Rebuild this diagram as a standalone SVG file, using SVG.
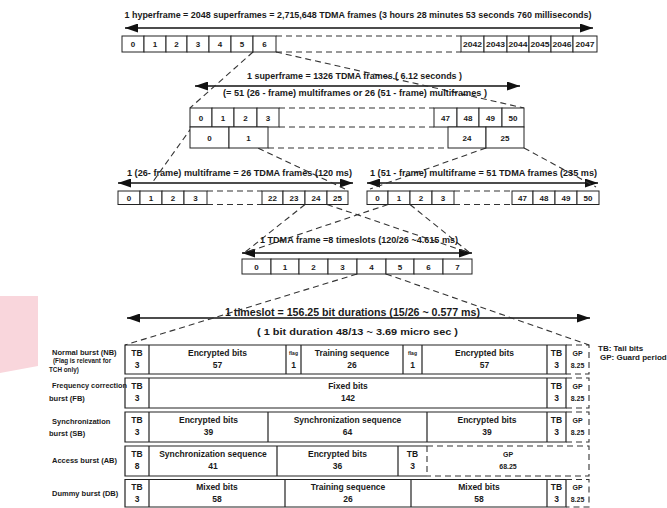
<svg xmlns="http://www.w3.org/2000/svg" width="667" height="508" viewBox="0 0 667 508">
<style>
text{font-family:"Liberation Sans",Arial,sans-serif;font-weight:bold;fill:#1a1a1a}
.c{fill:#fff;stroke:#222;stroke-width:1}
.r{fill:none;stroke:#222;stroke-width:1.2}
.d{fill:none;stroke:#333;stroke-width:1.1;stroke-dasharray:6 4}
.a{stroke:#111;stroke-width:1.3;fill:none;marker-start:url(#ah);marker-end:url(#ah)}
.n{font-size:8px;text-anchor:middle}
.h{font-size:8.5px;text-anchor:middle}
.l{font-size:7.5px}
.s{font-size:6.3px}
.m{font-size:8.5px;text-anchor:middle}
.f{font-size:5px;text-anchor:middle}
.g{font-size:7px;text-anchor:middle}
.k{font-size:8px}
</style>
<defs>
<marker id="ah" markerUnits="userSpaceOnUse" markerWidth="13" markerHeight="9" refX="13" refY="4.5" orient="auto-start-reverse"><path d="M0,0 L13,4.5 L0,9 z" fill="#111"/></marker>
</defs>
<rect width="667" height="508" fill="#fff"/>
<polygon points="0,296 38,296 38,366 0,373" fill="#f9d6dc"/>

<g id="connectors">
<line class="a" x1="125" y1="28" x2="593" y2="28"/>
<line class="a" x1="195" y1="86" x2="520" y2="86"/>
<line class="a" x1="118" y1="183" x2="353" y2="183"/>
<line class="a" x1="367" y1="183" x2="598" y2="183"/>
<line class="a" x1="242" y1="253" x2="472" y2="253"/>
<line class="a" x1="127" y1="318" x2="590" y2="318"/>
<path class="d" d="M276,36 H461 M276,52 H461"/>
<path class="d" d="M253,52 L190,108 M276,52 L524,108"/>
<path class="d" d="M279,108 H434 M279,127 H434 M268,148 H448"/>
<path class="d" d="M192,127 L152,183 M213,127 L345,189 M486,148 L370,189 M524,148 L596,187"/>
<path class="d" d="M207,191 H262 M207,204.5 H262 M454,191 H512 M454,204.5 H512"/>
<path class="d" d="M305,204.5 L244,253 M327,204.5 L470,253 M388,204.5 L244,253 M410,204.5 L470,253"/>
<path class="d" d="M357,274 L125,345 M386,274 L589,345"/>
</g>

<g id="hyperframe">
<text class="h" x="358" y="17.5" textLength="467" lengthAdjust="spacingAndGlyphs">1 hyperframe = 2048 superframes = 2,715,648 TDMA frames (3 hours 28 minutes 53 seconds 760 milliseconds)</text>
<rect class="c" x="122" y="36" width="22" height="16"/><rect class="c" x="144" y="36" width="22" height="16"/><rect class="c" x="166" y="36" width="21" height="16"/><rect class="c" x="187" y="36" width="22" height="16"/><rect class="c" x="209" y="36" width="22" height="16"/><rect class="c" x="231" y="36" width="22" height="16"/><rect class="c" x="253" y="36" width="23" height="16"/>
<text class="n" x="133" y="47">0</text><text class="n" x="155" y="47">1</text><text class="n" x="176.5" y="47">2</text><text class="n" x="198" y="47">3</text><text class="n" x="220" y="47">4</text><text class="n" x="242" y="47">5</text><text class="n" x="264.5" y="47">6</text>
<rect class="c" x="461" y="36" width="23" height="16"/><rect class="c" x="484" y="36" width="23" height="16"/><rect class="c" x="507" y="36" width="22" height="16"/><rect class="c" x="529" y="36" width="22" height="16"/><rect class="c" x="551" y="36" width="22" height="16"/><rect class="c" x="573" y="36" width="24" height="16"/>
<text class="n" x="472.5" y="47" textLength="19" lengthAdjust="spacingAndGlyphs">2042</text><text class="n" x="495.5" y="47" textLength="19" lengthAdjust="spacingAndGlyphs">2043</text><text class="n" x="518" y="47" textLength="19" lengthAdjust="spacingAndGlyphs">2044</text><text class="n" x="540" y="47" textLength="19" lengthAdjust="spacingAndGlyphs">2045</text><text class="n" x="562" y="47" textLength="19" lengthAdjust="spacingAndGlyphs">2046</text><text class="n" x="585" y="47" textLength="19" lengthAdjust="spacingAndGlyphs">2047</text>
</g>

<g id="superframe">
<text class="h" x="354.5" y="78.5" textLength="215" lengthAdjust="spacingAndGlyphs">1 superframe = 1326 TDMA frames ( 6.12 seconds )</text>
<text class="h" x="355" y="96.3" textLength="264" lengthAdjust="spacingAndGlyphs">(= 51 (26 - frame) multiframes or 26 (51 - frame) multiframes )</text>
<rect class="c" x="190" y="108" width="22" height="19"/><rect class="c" x="212" y="108" width="22" height="19"/><rect class="c" x="234" y="108" width="23" height="19"/><rect class="c" x="257" y="108" width="22" height="19"/>
<text class="n" x="201" y="120.5">0</text><text class="n" x="223" y="120.5">1</text><text class="n" x="245.5" y="120.5">2</text><text class="n" x="268" y="120.5">3</text>
<rect class="c" x="434" y="108" width="23" height="19"/><rect class="c" x="457" y="108" width="22" height="19"/><rect class="c" x="479" y="108" width="23" height="19"/><rect class="c" x="502" y="108" width="22" height="19"/>
<text class="n" x="445.5" y="120.5">47</text><text class="n" x="468" y="120.5">48</text><text class="n" x="490.5" y="120.5">49</text><text class="n" x="513" y="120.5">50</text>
<rect class="c" x="190" y="127" width="39" height="21"/><rect class="c" x="229" y="127" width="39" height="21"/>
<text class="n" x="209.5" y="140.5">0</text><text class="n" x="248.5" y="140.5">1</text>
<rect class="c" x="448" y="127" width="38" height="21"/><rect class="c" x="486" y="127" width="38" height="21"/>
<text class="n" x="467" y="140.5">24</text><text class="n" x="505" y="140.5">25</text>
</g>

<g id="multiframe26">
<text class="h" x="239.5" y="176.3" textLength="225" lengthAdjust="spacingAndGlyphs">1 (26- frame) multiframe = 26 TDMA frames (120 ms)</text>
<rect class="c" x="118" y="191" width="22" height="13.5"/><rect class="c" x="140" y="191" width="22" height="13.5"/><rect class="c" x="162" y="191" width="22" height="13.5"/><rect class="c" x="184" y="191" width="23" height="13.5"/>
<text class="n" x="129" y="200.6">0</text><text class="n" x="151" y="200.6">1</text><text class="n" x="173" y="200.6">2</text><text class="n" x="195.5" y="200.6">3</text>
<rect class="c" x="262" y="191" width="21" height="13.5"/><rect class="c" x="283" y="191" width="22" height="13.5"/><rect class="c" x="305" y="191" width="22" height="13.5"/><rect class="c" x="327" y="191" width="21" height="13.5"/>
<text class="n" x="272.5" y="200.6">22</text><text class="n" x="294" y="200.6">23</text><text class="n" x="316" y="200.6">24</text><text class="n" x="337.5" y="200.6">25</text>
</g>

<g id="multiframe51">
<text class="h" x="483.5" y="176.3" textLength="227" lengthAdjust="spacingAndGlyphs">1 (51 - frame) multiframe = 51 TDMA frames (235 ms)</text>
<rect class="c" x="367" y="191" width="21" height="13.5"/><rect class="c" x="388" y="191" width="22" height="13.5"/><rect class="c" x="410" y="191" width="22" height="13.5"/><rect class="c" x="432" y="191" width="22" height="13.5"/>
<text class="n" x="377.5" y="200.6">0</text><text class="n" x="399" y="200.6">1</text><text class="n" x="421" y="200.6">2</text><text class="n" x="443" y="200.6">3</text>
<rect class="c" x="512" y="191" width="21" height="13.5"/><rect class="c" x="533" y="191" width="22" height="13.5"/><rect class="c" x="555" y="191" width="22" height="13.5"/><rect class="c" x="577" y="191" width="22" height="13.5"/>
<text class="n" x="522.5" y="200.6">47</text><text class="n" x="544" y="200.6">48</text><text class="n" x="566" y="200.6">49</text><text class="n" x="588" y="200.6">50</text>
</g>

<g id="tdmaframe">
<text class="h" x="359" y="243" textLength="198" lengthAdjust="spacingAndGlyphs">1 TDMA frame =8 timeslots (120/26 ~4.615 ms)</text>
<rect class="c" x="242" y="259" width="29" height="15"/><rect class="c" x="271" y="259" width="28" height="15"/><rect class="c" x="299" y="259" width="29" height="15"/><rect class="c" x="328" y="259" width="29" height="15"/><rect class="c" x="357" y="259" width="29" height="15"/><rect class="c" x="386" y="259" width="28" height="15"/><rect class="c" x="414" y="259" width="29" height="15"/><rect class="c" x="443" y="259" width="29" height="15"/>
<text class="n" x="256.5" y="269.5">0</text><text class="n" x="285" y="269.5">1</text><text class="n" x="313.5" y="269.5">2</text><text class="n" x="342.5" y="269.5">3</text><text class="n" x="371.5" y="269.5">4</text><text class="n" x="400" y="269.5">5</text><text class="n" x="428.5" y="269.5">6</text><text class="n" x="457.5" y="269.5">7</text>
</g>

<g id="timeslot">
<text x="352.5" y="315.5" style="font-size:10px;text-anchor:middle" textLength="255" lengthAdjust="spacingAndGlyphs">1 timeslot = 156.25 bit durations (15/26 ~ 0.577 ms)</text>
<text x="357.5" y="334.5" style="font-size:9.5px;text-anchor:middle" textLength="201" lengthAdjust="spacingAndGlyphs">( 1 bit duration 48/13 ~ 3.69 micro sec )</text>
</g>

<g id="normal-burst">
<text class="l" x="52" y="354.5">Normal burst (NB)</text>
<text class="s" x="53" y="363">(Flag is relevant for</text>
<text class="s" x="49" y="371.5">TCH only)</text>
<path class="r" d="M566,345 H125 V374 H566 Z M149,345 V374 M286,345 V374 M301,345 V374 M403,345 V374 M422,345 V374 M547,345 V374"/>
<path class="d" d="M566,345 H589 V374 H566"/>
<text class="m" x="137" y="355.5">TB</text><text class="m" x="137" y="368">3</text>
<text class="m" x="217.5" y="355.5">Encrypted bits</text><text class="m" x="217.5" y="368">57</text>
<text class="f" x="293.5" y="355">flag</text><text class="m" x="293.5" y="368">1</text>
<text class="m" x="352" y="355.5">Training sequence</text><text class="m" x="352" y="368">26</text>
<text class="f" x="412.5" y="355">flag</text><text class="m" x="412.5" y="368">1</text>
<text class="m" x="484.5" y="355.5">Encrypted bits</text><text class="m" x="484.5" y="368">57</text>
<text class="m" x="556.5" y="355.5">TB</text><text class="m" x="556.5" y="368">3</text>
<text class="g" x="577.5" y="355.5">GP</text><text class="g" x="577.5" y="368">8.25</text>
</g>

<g id="frequency-correction-burst">
<text class="l" x="52" y="388" textLength="75" lengthAdjust="spacingAndGlyphs">Frequency correction</text>
<text class="l" x="49" y="401">burst (FB)</text>
<path class="r" d="M566,378 H125 V408 H566 Z M149,378 V408 M547,378 V408"/>
<path class="d" d="M566,378 H589 V408 H566"/>
<text class="m" x="137" y="388.5">TB</text><text class="m" x="137" y="401">3</text>
<text class="m" x="348" y="388.5">Fixed bits</text><text class="m" x="348" y="401">142</text>
<text class="m" x="556.5" y="388.5">TB</text><text class="m" x="556.5" y="401">3</text>
<text class="g" x="577.5" y="388.5">GP</text><text class="g" x="577.5" y="401">8.25</text>
</g>

<g id="synchronization-burst">
<text class="l" x="52" y="424">Synchronization</text>
<text class="l" x="49" y="435.5">burst (SB)</text>
<path class="r" d="M566,412 H125 V442 H566 Z M149,412 V442 M268,412 V442 M427,412 V442 M547,412 V442"/>
<path class="d" d="M566,412 H589 V442 H566"/>
<text class="m" x="137" y="422.5">TB</text><text class="m" x="137" y="435">3</text>
<text class="m" x="208.5" y="422.5">Encrypted bits</text><text class="m" x="208.5" y="435">39</text>
<text class="m" x="347.5" y="422.5">Synchronization sequence</text><text class="m" x="347.5" y="435">64</text>
<text class="m" x="487" y="422.5">Encrypted bits</text><text class="m" x="487" y="435">39</text>
<text class="m" x="556.5" y="422.5">TB</text><text class="m" x="556.5" y="435">3</text>
<text class="g" x="577.5" y="422.5">GP</text><text class="g" x="577.5" y="435">8.25</text>
</g>

<g id="access-burst">
<text class="l" x="52" y="463">Access burst (AB)</text>
<path class="r" d="M427,446 H125 V476 H427 M149,446 V476 M277,446 V476 M398,446 V476"/>
<path class="d" d="M427,446 H589 V476 H427 M427,446 V476"/>
<text class="m" x="137" y="456.5">TB</text><text class="m" x="137" y="469">8</text>
<text class="m" x="213" y="456.5">Synchronization sequence</text><text class="m" x="213" y="469">41</text>
<text class="m" x="337.5" y="456.5">Encrypted bits</text><text class="m" x="337.5" y="469">36</text>
<text class="m" x="412.5" y="456.5">TB</text><text class="m" x="412.5" y="469">3</text>
<text class="g" x="508" y="456.5">GP</text><text class="g" x="508" y="469">68.25</text>
</g>

<g id="dummy-burst">
<text class="l" x="52" y="496">Dummy burst (DB)</text>
<path class="r" d="M566,479.5 H125 V507 H566 Z M149,479.5 V507 M285,479.5 V507 M411,479.5 V507 M547,479.5 V507"/>
<path class="d" d="M566,479.5 H589 V507 H566"/>
<text class="m" x="137" y="490">TB</text><text class="m" x="137" y="502">3</text>
<text class="m" x="217" y="490">Mixed bits</text><text class="m" x="217" y="502">58</text>
<text class="m" x="348" y="490">Training sequence</text><text class="m" x="348" y="502">26</text>
<text class="m" x="479" y="490">Mixed bits</text><text class="m" x="479" y="502">58</text>
<text class="m" x="556.5" y="490">TB</text><text class="m" x="556.5" y="502">3</text>
<text class="g" x="577.5" y="490">GP</text><text class="g" x="577.5" y="502">8.25</text>
</g>

<g id="legend">
<text class="k" x="598" y="351">TB: Tail bits</text>
<text class="k" x="600" y="360">GP: Guard period</text>
</g>
</svg>
